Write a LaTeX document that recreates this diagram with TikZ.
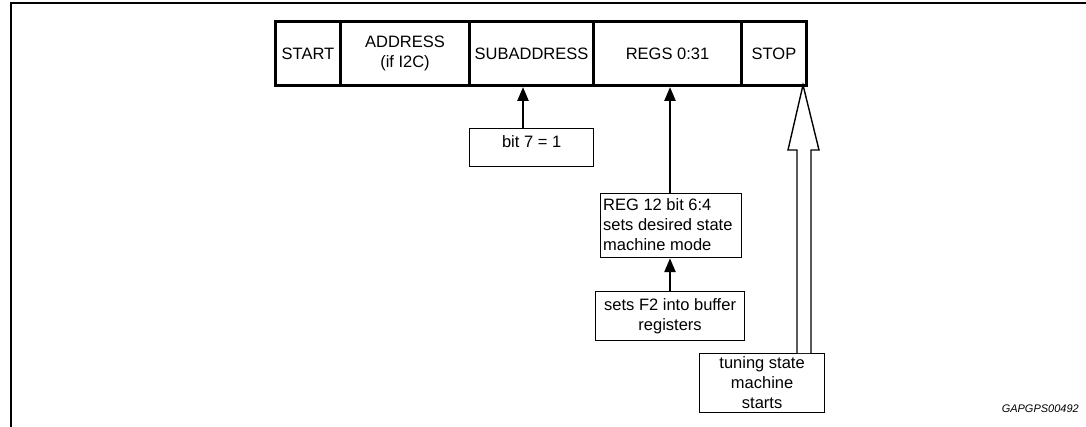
\documentclass[tikz,border=0pt]{standalone}
\usepackage{fontspec}
\setmainfont{Liberation Sans}
\usetikzlibrary{arrows.meta,calc}
\begin{document}
\begin{tikzpicture}[x=1pt,y=-1pt,
  cell/.style={draw,line width=3pt,minimum height=64pt,anchor=north west,inner sep=0pt,align=center,font=\fontsize{16.5}{19.5}\selectfont},
  tbox/.style={draw,line width=1.2pt,anchor=north west,inner sep=0pt,font=\fontsize{16.5}{20}\selectfont},
  lbl/.style={inner sep=0pt,font=\fontsize{16.5}{20}\selectfont},
  arr/.style={line width=2.5pt,-{Triangle[width=11pt,length=14pt]}}]
\useasboundingbox (0,0) rectangle (1086,427);
\draw[line width=2pt] (11,427) -- (11,3) -- (1086,3);
% bar
\node[cell,minimum width=65pt] (start) at (274,20) {START};
\node[cell,minimum width=129pt] (addr) at (339,20) {ADDRESS\\(if I2C)};
\node[cell,minimum width=124pt] (sub) at (468,20) {SUBADDRESS};
\node[cell,minimum width=148pt] (regs) at (592,20) {REGS 0:31};
\node[cell,minimum width=65pt] (stop) at (740,20) {STOP};
% boxes
\node[tbox,minimum width=124pt,minimum height=38pt] (b7) at (469,128) {};
\node[lbl,anchor=north] at ($(b7.north)+(0,7)$) {bit 7 = 1};
\node[tbox,minimum width=141pt,minimum height=64pt] (reg12) at (600,193) {};
\node[lbl,anchor=north west,align=left] at ($(reg12.north west)+(3,5)$) {REG 12 bit 6:4\\sets desired state\\machine mode};
\node[tbox,minimum width=149pt,minimum height=49pt,align=center] (f2) at (595,291) {sets F2 into buffer\\registers};
\node[tbox,minimum width=125pt,minimum height=59pt,align=center] (tun) at (699,353) {tuning state\\machine\\starts};
% arrows
\draw[arr] (b7.north -| 523,0) -- (sub.south -| 523,0);
\draw[arr] (reg12.north -| 670,0) -- (regs.south -| 670,0);
\draw[arr] (f2.north -| 670,0) -- (reg12.south -| 670,0);
% hollow arrow
\draw[line width=1.4pt,fill=white,line join=miter]
  (tun.north -| 797,0) -- (797,150) -- (788,150) -- (803,85) -- (819,150) -- (811,150) -- (tun.north -| 811,0);
\node[anchor=south east,inner sep=0pt,font=\fontsize{11}{13}\selectfont\itshape] (code) at (1079,413) {GAPGPS00492};
\end{tikzpicture}
\end{document}
